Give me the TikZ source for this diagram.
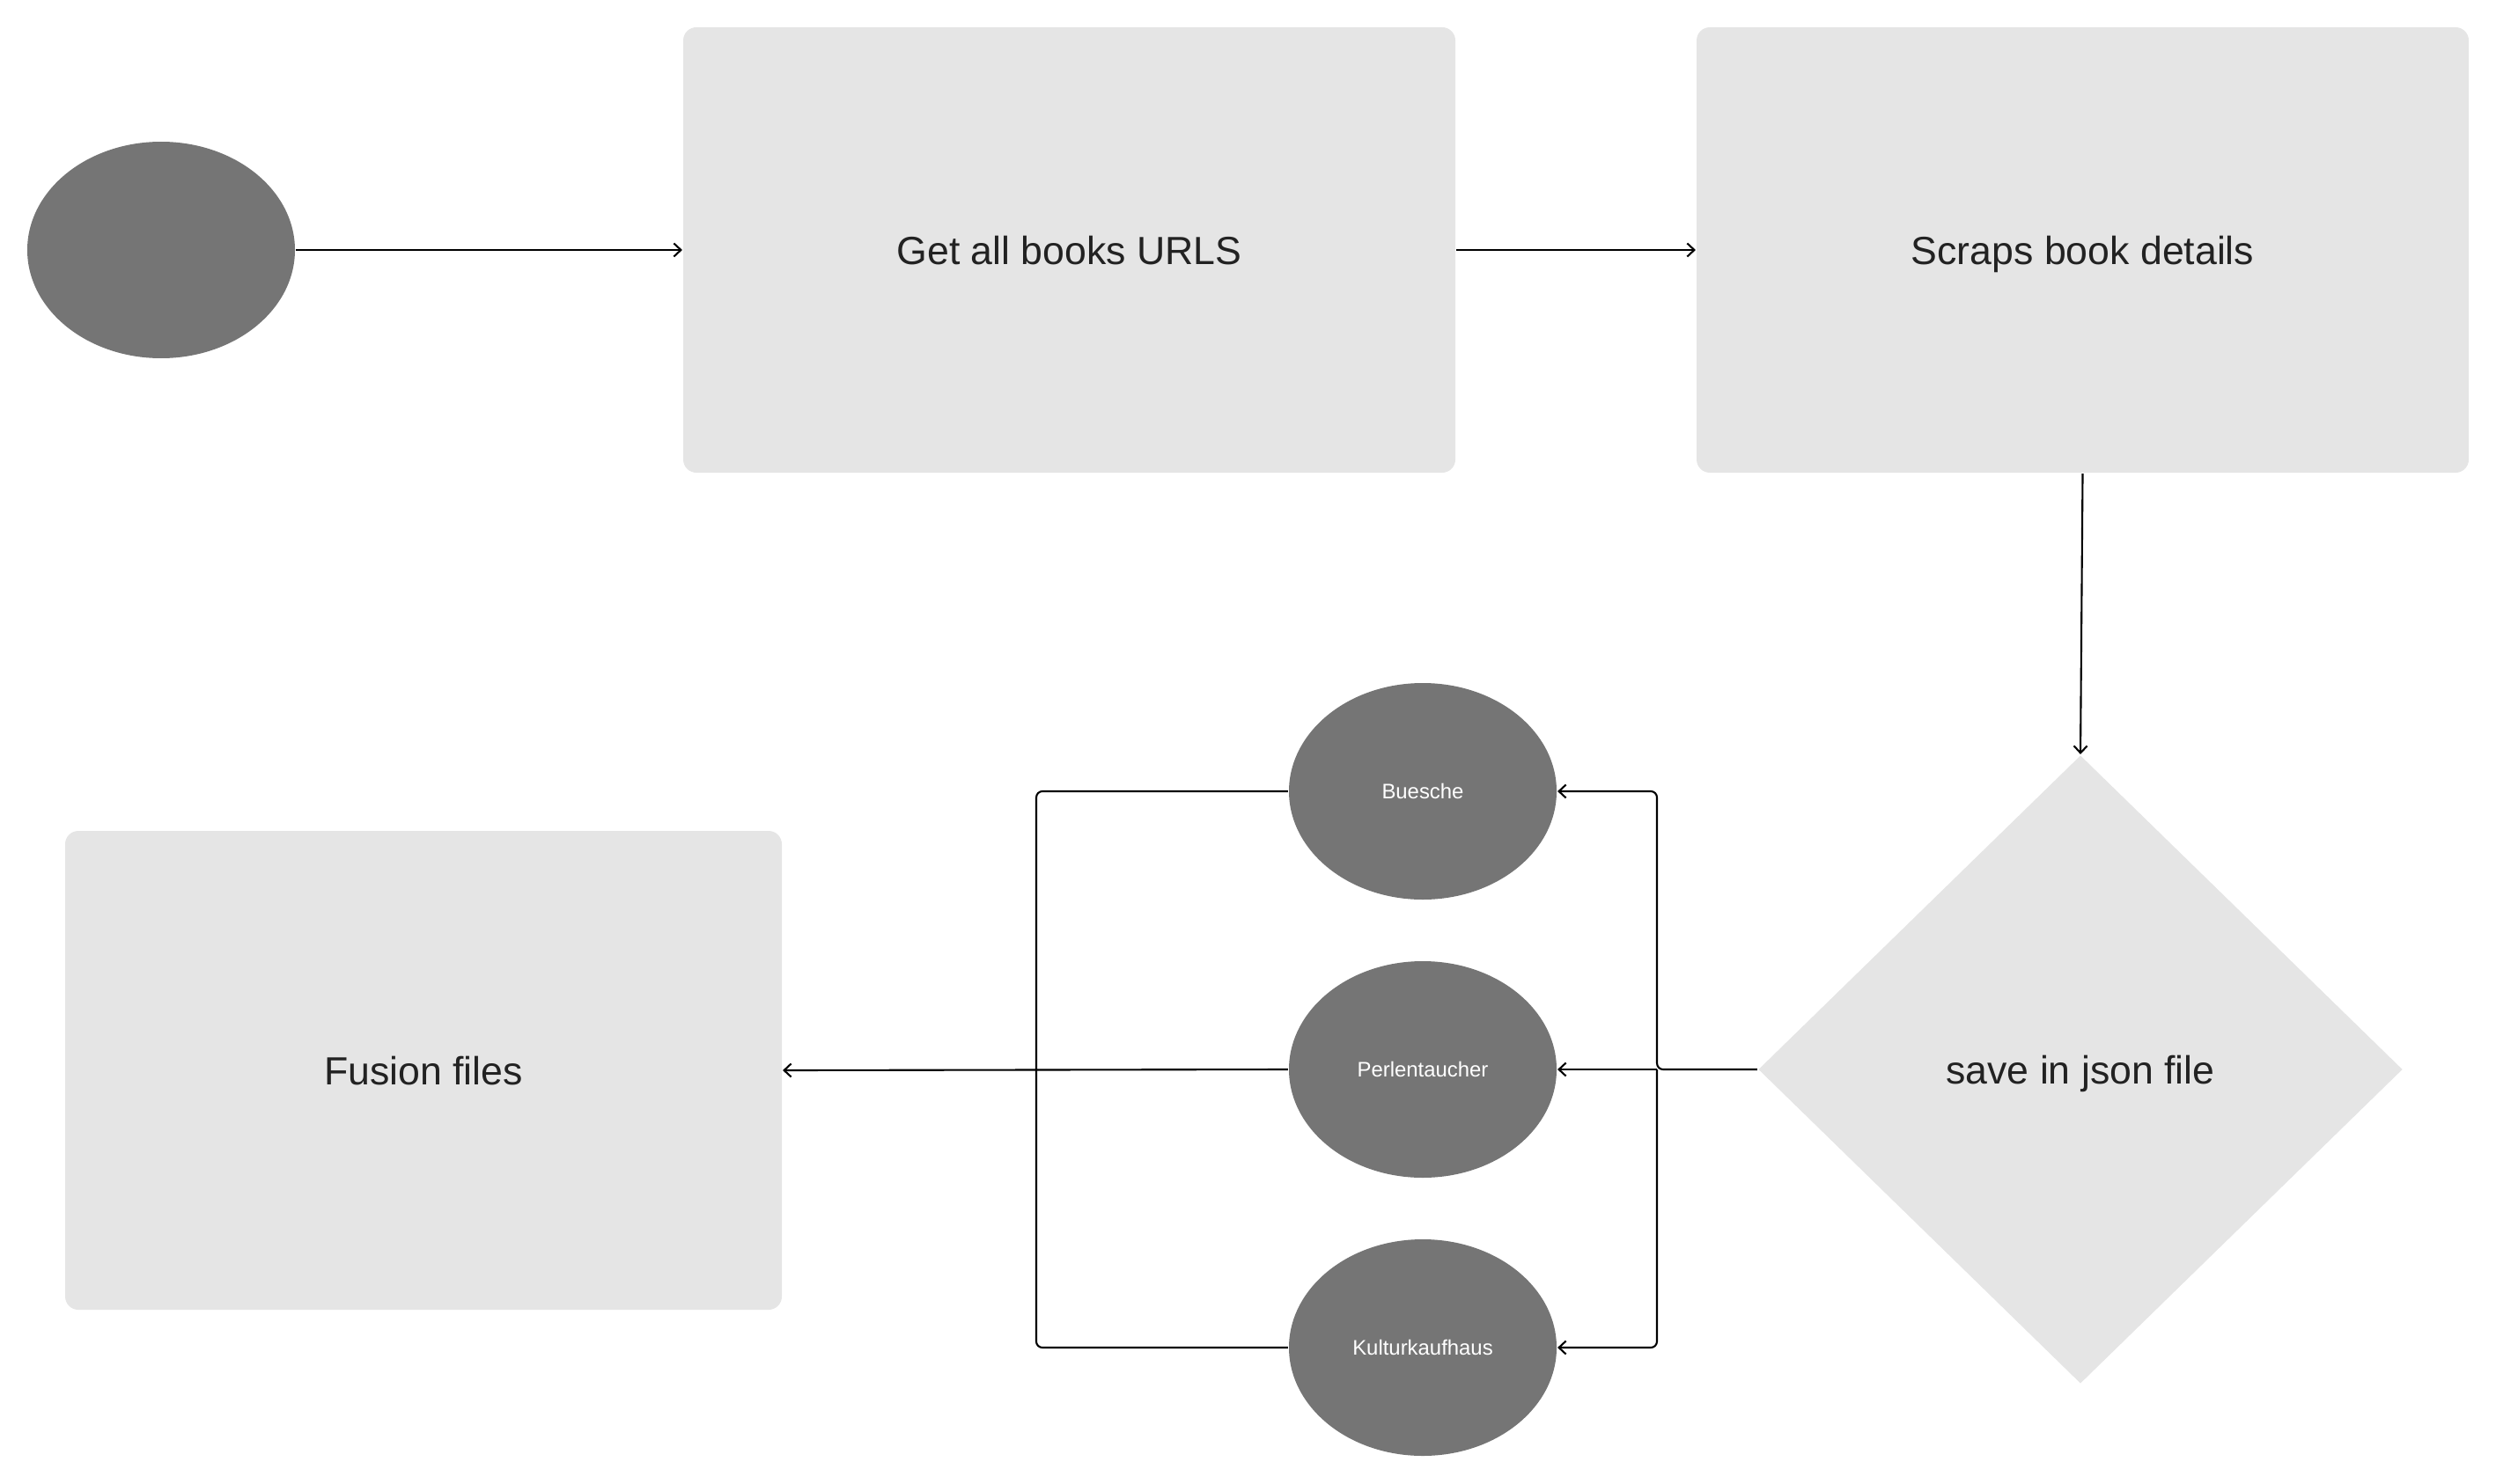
\documentclass[tikz,border=0pt]{standalone}
\usepackage{fontspec}
\setmainfont{Liberation Sans}
\usetikzlibrary{shapes.geometric,arrows.meta}

\definecolor{boxgray}{HTML}{E5E5E5}
\definecolor{ovalgray}{HTML}{757575}
\definecolor{textdark}{HTML}{222222}

\begin{document}
\begin{tikzpicture}[
    stepbox/.style={rectangle, rounded corners=0.15cm, fill=boxgray, text=textdark,
      inner sep=0pt, text depth=0pt, font=\fontsize{12.7}{15}\selectfont},
    oval/.style={ellipse, fill=ovalgray, text=white, inner sep=0pt, text depth=0pt,
      minimum width=3.04cm, minimum height=2.46cm, font=\fontsize{6.8}{8}\selectfont},
    arr/.style={-{Straight Barb[length=0.8mm,width=1.5mm]}},
    every path/.style={line width=0.6pt}
  ]
  \useasboundingbox (0,0) rectangle (28.35,-16.86);

  % Top row
  \node[oval] (start) at (1.83,-2.84) {};
  \node[stepbox, minimum width=8.77cm, minimum height=5.06cm] (urls) at (12.145,-2.84) {Get all books URLS};
  \node[stepbox, minimum width=8.77cm, minimum height=5.06cm] (details) at (23.655,-2.84) {Scraps book details};

  % Bottom row
  \node[diamond, fill=boxgray, text=textdark, inner sep=0pt, text depth=0pt, minimum width=7.32cm,
    minimum height=7.14cm, font=\fontsize{12.7}{15}\selectfont] (save) at (23.63,-12.15) {save in json file};
  \node[oval] (buesche) at (16.16,-8.99) {Buesche};
  \node[oval] (perlen) at (16.16,-12.15) {Perlentaucher};
  \node[oval] (kultur) at (16.16,-15.31) {Kulturkaufhaus};
  \node[stepbox, minimum width=8.14cm, minimum height=5.44cm] (fusion) at (4.81,-12.16) {Fusion files};

  % Bus points
  \coordinate (rbus) at (18.82,-12.15);
  \coordinate (lbus) at (11.77,-12.15);

  % Connectors
  \draw[arr] (start.east) -- (urls.west);
  \draw[arr] (urls.east) -- (details.west);
  \draw[arr] (details.south) -- (save.north);
  \draw[arr, rounded corners=2pt] (save.west) -- (rbus) |- (buesche.east);
  \draw[arr] (rbus) -- (perlen.east);
  \draw[arr, rounded corners=2pt] (rbus) |- (kultur.east);
  \draw[rounded corners=2pt] (buesche.west) -| (lbus);
  \draw[rounded corners=2pt] (kultur.west) -| (lbus);
  \draw[arr] (perlen.west) -- (fusion.east);
\end{tikzpicture}
\end{document}
